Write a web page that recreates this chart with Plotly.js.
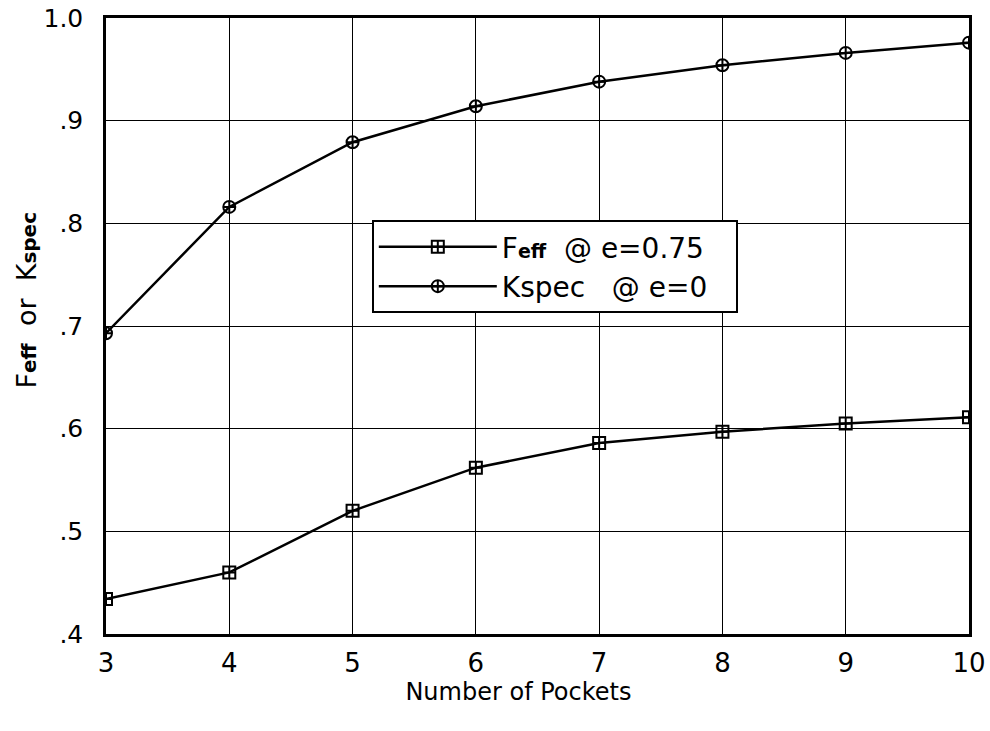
<!DOCTYPE html>
<html><head><meta charset="utf-8">
<script src="https://cdn.plot.ly/plotly-3.0.1.min.js"></script>
<style>html,body{margin:0;padding:0;background:#fff}</style>
</head><body>
<div id="chart" style="width:990px;height:731px"></div>
<script>
const pockets = [3, 4, 5, 6, 7, 8, 9, 10];
const feff = [0.434, 0.460, 0.520, 0.562, 0.586, 0.597, 0.605, 0.611];
const kspec = [0.693, 0.816, 0.879, 0.914, 0.938, 0.954, 0.966, 0.976];
const yTickVals = [0.4, 0.5, 0.6, 0.7, 0.8, 0.9, 1.0];
const yTickText = ['.4', '.5', '.6', '.7', '.8', '.9', '1.0'];

const FONT = '"DejaVu Sans", "Liberation Sans", Arial, sans-serif';
const traces = [
  {x: pockets, y: feff, mode: 'lines+markers', type: 'scatter',
   name: 'F<span style="font-size:19px"><b>eff</b></span>  @ e=0.75&nbsp;&nbsp;&nbsp;',
   line: {color: '#000', width: 2.5},
   marker: {symbol: 'square-cross-open', size: 12, color: '#000', line: {color: '#000', width: 2}}},
  {x: pockets, y: kspec, mode: 'lines+markers', type: 'scatter',
   name: 'Kspec   @ e=0',
   line: {color: '#000', width: 2.5},
   marker: {symbol: 'circle-cross-open', size: 12, color: '#000', line: {color: '#000', width: 2}}}
];

const layout = {
  width: 990, height: 731,
  margin: {l: 106, r: 21, t: 18, b: 97},
  paper_bgcolor: '#fff', plot_bgcolor: '#fff',
  font: {family: FONT, color: '#000', size: 25},
  showlegend: true,
  legend: {x: 0.308, y: 0.672, xanchor: 'left', yanchor: 'top',
    bordercolor: '#000', borderwidth: 2, bgcolor: '#fff',
    font: {family: FONT, size: 28, color: '#000'}, itemwidth: 118,
    tracegroupgap: 0},
  xaxis: {range: [3, 10], tickvals: pockets, ticks: '', showgrid: true,
    gridcolor: '#000', gridwidth: 1.2, zeroline: false,
    showline: true, linecolor: '#000', linewidth: 2.5, mirror: true,
    tickfont: {size: 26}, ticklabelstandoff: 4,
    title: {text: 'Number of Pockets&nbsp;&nbsp;&nbsp;&nbsp;&nbsp;', font: {size: 24}, standoff: 6}},
  yaxis: {range: [0.4, 1.0], tickvals: yTickVals, ticktext: yTickText, ticks: '',
    showgrid: true, gridcolor: '#000', gridwidth: 1.2, zeroline: false,
    showline: true, linecolor: '#000', linewidth: 2.5, mirror: true,
    tickfont: {size: 25}, ticklabelstandoff: 15,
    title: {text: '&nbsp;&nbsp;&nbsp;&nbsp;&nbsp;&nbsp;F<span style="font-size:20px"><b>eff</b></span>  or  K<span style="font-size:20px"><b>spec</b></span>', font: {size: 27}, standoff: 0}}
};
Plotly.newPlot('chart', traces, layout, {displayModeBar: false});
</script>
</body></html>
